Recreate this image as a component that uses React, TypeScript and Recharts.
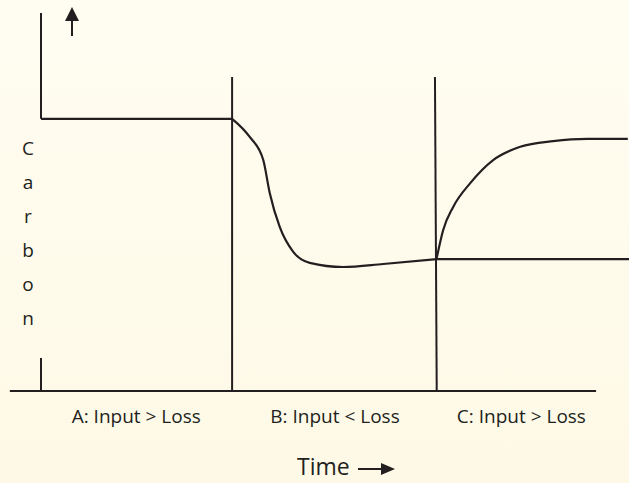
import { ComposedChart, Line, XAxis, YAxis, ReferenceLine, ReferenceDot, Label } from 'recharts'

// x = time (0..100 across the plot), y = carbon (0..100)
const carbonLetters = ['C', 'a', 'r', 'b', 'o', 'n']
const phaseLabels   = ['A: Input > Loss', 'B: Input < Loss', 'C: Input > Loss']
const phaseTicks    = [16.2, 50, 81.7]

const phaseA = [
  { t: 0,    c: 72 },
  { t: 32.5, c: 72 },
]
const phaseB = [
  { t: 32.5, c: 72.0 },
  { t: 35.5, c: 67.2 },
  { t: 37.8, c: 61.1 },
  { t: 38.9, c: 52.4 },
  { t: 40.6, c: 43.4 },
  { t: 42.9, c: 36.8 },
  { t: 45.7, c: 33.9 },
  { t: 51.4, c: 32.8 },
  { t: 58.2, c: 33.6 },
  { t: 67.3, c: 34.9 },
]
const phaseC = [
  { t: 67.3, c: 35.2 },
  { t: 68.4, c: 42.6 },
  { t: 70.1, c: 48.7 },
  { t: 73.0, c: 55.0 },
  { t: 76.9, c: 61.1 },
  { t: 81.5, c: 64.6 },
  { t: 87.1, c: 66.1 },
  { t: 92.9, c: 66.7 },
  { t: 99.8, c: 66.7 },
]
const noChange = [
  { t: 67.3, c: 34.9 },
  { t: 100,  c: 34.9 },
]

const INK = '#231f20'
const FONT = '"Open Sans", sans-serif'

function CarbonLabel() {
  return (
    <g>
      {carbonLetters.map((ch, i) => (
        <text key={i} x={28} y={148 + i * 34} textAnchor="middle" dominantBaseline="central"
          fontFamily={FONT} fontSize={19} fill={INK}>{ch}</text>
      ))}
    </g>
  )
}

function TimeLabel() {
  const x = 297
  const y = 475
  return (
    <g>
      <text x={x} y={y} fontFamily={FONT} fontSize={23} fill={INK}>Time</text>
      <line x1={x + 61} y1={y - 6} x2={x + 86} y2={y - 6} stroke={INK} strokeWidth={2} />
      <path d={`M${x + 84},${y - 12} L${x + 98},${y - 6} L${x + 84},${y} Z`} fill={INK} />
    </g>
  )
}

const ArrowHead = (props: any) => {
  const { cx, cy } = props
  return <path d={`M${cx},${cy - 14} L${cx + 7},${cy} L${cx - 7},${cy} Z`} fill={INK} />
}

export default function App() {
  return (
    <div style={{ position: 'fixed', left: 0, top: 0, width: 629, height: 483,
      background: 'linear-gradient(#fffdf2, #fef9e6)' }}>
      <ComposedChart width={629} height={483} margin={{ top: 13, right: 0, bottom: 0, left: 0 }}>
        <XAxis type="number" dataKey="t" domain={[0, 100]} allowDataOverflow
          ticks={phaseTicks} tickFormatter={(v) => phaseLabels[phaseTicks.indexOf(v)]}
          axisLine={false} tickLine={false} tickMargin={13} height={92}
          tick={{ fontFamily: FONT, fontSize: 19, fill: INK }} interval={0}>
          <Label content={<TimeLabel />} />
        </XAxis>
        <YAxis type="number" domain={[0, 100]} allowDataOverflow width={41}
          axisLine={false} tickLine={false} tick={false}>
          <Label content={<CarbonLabel />} />
        </YAxis>

        <ReferenceLine segment={[{ x: 0, y: 100 }, { x: 0, y: 72 }]} stroke={INK} strokeWidth={2} ifOverflow="visible" />
        <ReferenceLine segment={[{ x: 0, y: 8.7 }, { x: 0, y: 0 }]} stroke={INK} strokeWidth={2} ifOverflow="visible" />
        <ReferenceLine segment={[{ x: -5.3, y: 0 }, { x: 94.4, y: 0 }]} stroke={INK} strokeWidth={2.2} ifOverflow="visible" />
        <ReferenceLine segment={[{ x: 32.5, y: 83.1 }, { x: 32.5, y: 0 }]} stroke={INK} strokeWidth={2} ifOverflow="visible" />
        <ReferenceLine segment={[{ x: 67.0, y: 83.1 }, { x: 67.3, y: 0 }]} stroke={INK} strokeWidth={2} ifOverflow="visible" />
        <ReferenceLine segment={[{ x: 5.27, y: 93.9 }, { x: 5.27, y: 97.9 }]} stroke={INK} strokeWidth={2} ifOverflow="visible" />
        <ReferenceDot x={5.27} y={97.9} ifOverflow="visible" shape={<ArrowHead />} />

        <Line data={phaseA} dataKey="c" type="linear" stroke={INK} strokeWidth={2.2} dot={false} isAnimationActive={false} />
        <Line data={phaseB} dataKey="c" type="monotone" stroke={INK} strokeWidth={2.2} dot={false} isAnimationActive={false} />
        <Line data={noChange} dataKey="c" type="linear" stroke={INK} strokeWidth={2.2} dot={false} isAnimationActive={false} />
        <Line data={phaseC} dataKey="c" type="monotone" stroke={INK} strokeWidth={2.2} dot={false} isAnimationActive={false} />
      </ComposedChart>
    </div>
  )
}
